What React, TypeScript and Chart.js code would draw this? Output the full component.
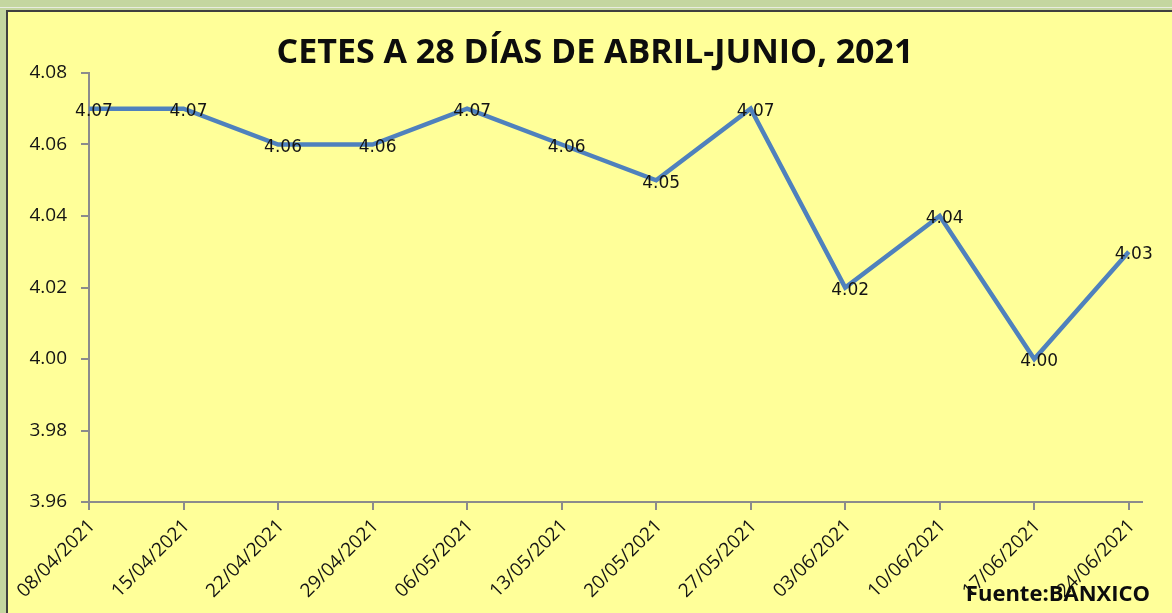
import React, { useEffect, useRef } from "react";
import { Chart, registerables } from "chart.js";

Chart.register(...registerables);

const chartTitle = "CETES A 28 DÍAS DE ABRIL-JUNIO, 2021";
const sourceNote = "Fuente:BANXICO";
const dates = [
  "08/04/2021",
  "15/04/2021",
  "22/04/2021",
  "29/04/2021",
  "06/05/2021",
  "13/05/2021",
  "20/05/2021",
  "27/05/2021",
  "03/06/2021",
  "10/06/2021",
  "17/06/2021",
  "24/06/2021",
];
const rates = [4.07, 4.07, 4.06, 4.06, 4.07, 4.06, 4.05, 4.07, 4.02, 4.04, 4.0, 4.03];
const yMin = 3.96;
const yMax = 4.08;
const yStep = 0.02;

const overlayPlugin = {
  id: "overlay",
  afterDatasetsDraw(chart: any) {
    const ctx = chart.ctx;
    const meta = chart.getDatasetMeta(0);
    ctx.save();
    ctx.fillStyle = "#141414";
    ctx.font = "17px 'DejaVu Sans'";
    ctx.textAlign = "center";
    ctx.textBaseline = "middle";
    meta.data.forEach((pt: any, i: number) => {
      ctx.fillText(rates[i].toFixed(2), pt.x + 5, pt.y + 3);
    });
    ctx.restore();
  },
  afterDraw(chart: any) {
    const ctx = chart.ctx;
    ctx.save();
    ctx.fillStyle = "#0d0d0d";
    ctx.font = "bold 34px 'Open Sans'";
    ctx.textAlign = "center";
    ctx.textBaseline = "middle";
    ctx.fillText(chartTitle, 595, 53);
    ctx.font = "bold 22px 'Open Sans'";
    ctx.textAlign = "right";
    ctx.textBaseline = "alphabetic";
    ctx.fillText(sourceNote, 1150, 601);
    ctx.restore();
  },
};

export default function App() {
  const canvasRef = useRef<HTMLCanvasElement | null>(null);

  useEffect(() => {
    const canvas = canvasRef.current;
    if (!canvas) return;
    const chart = new Chart(canvas, {
      type: "line",
      data: {
        datasets: [
          {
            data: rates.map((v, i) => ({ x: i, y: v })),
            borderColor: "#4F81BD",
            borderWidth: 4.5,
            pointRadius: 0,
            tension: 0,
            fill: false,
          },
        ],
      },
      options: {
        animation: false,
        responsive: false,
        maintainAspectRatio: false,
        layout: { padding: { top: 73, right: 30, bottom: 0, left: 0 } },
        plugins: {
          legend: { display: false },
          title: { display: false },
          tooltip: { enabled: false },
        },
        scales: {
          x: {
            type: "linear",
            min: 0,
            max: 11.14,
            afterBuildTicks: (scale: any) => {
              scale.ticks = dates.map((_, i) => ({ value: i }));
            },
            afterFit: (scale: any) => {
              scale.height = 111;
            },
            grid: {
              drawOnChartArea: false,
              drawTicks: true,
              tickLength: 8,
              color: "#8c8c8c",
              lineWidth: 2,
            },
            border: { display: true, color: "#8c8c8c", width: 2 },
            ticks: {
              autoSkip: false,
              maxRotation: 45,
              minRotation: 45,
              padding: 5,
              labelOffset: 3,
              color: "#141414",
              font: { family: "'Open Sans'", size: 19 },
              callback: (v: any) => dates[Math.round(Number(v))] ?? "",
            },
          },
          y: {
            min: yMin,
            max: yMax,
            afterFit: (scale: any) => {
              scale.width = 89;
            },
            grid: {
              drawOnChartArea: false,
              drawTicks: true,
              tickLength: 8,
              color: "#8c8c8c",
              lineWidth: 2,
            },
            border: { display: true, color: "#8c8c8c", width: 2 },
            ticks: {
              stepSize: yStep,
              padding: 14,
              color: "#141414",
              font: { family: "'Open Sans'", size: 19 },
              callback: (v: any) => Number(v).toFixed(2),
            },
          },
        },
      },
      plugins: [overlayPlugin],
    });
    return () => chart.destroy();
  }, []);

  return (
    <div
      style={{
        position: "fixed",
        left: 0,
        top: 0,
        width: 1172,
        height: 613,
        background: "#C4D6A0",
        overflow: "hidden",
      }}
    >
      <div
        style={{
          position: "absolute",
          left: 0,
          top: 7,
          width: 1172,
          height: 1,
          background: "#e8ece0",
        }}
      />
      <div
        style={{
          position: "absolute",
          left: 6,
          top: 10,
          width: 1172,
          height: 613,
          background: "#FFFF99",
          borderTop: "2px solid #404040",
          borderLeft: "2px solid #404040",
        }}
      />
      <canvas
        ref={canvasRef}
        width={1172}
        height={613}
        style={{ position: "absolute", left: 0, top: 0, width: 1172, height: 613 }}
      />
    </div>
  );
}
